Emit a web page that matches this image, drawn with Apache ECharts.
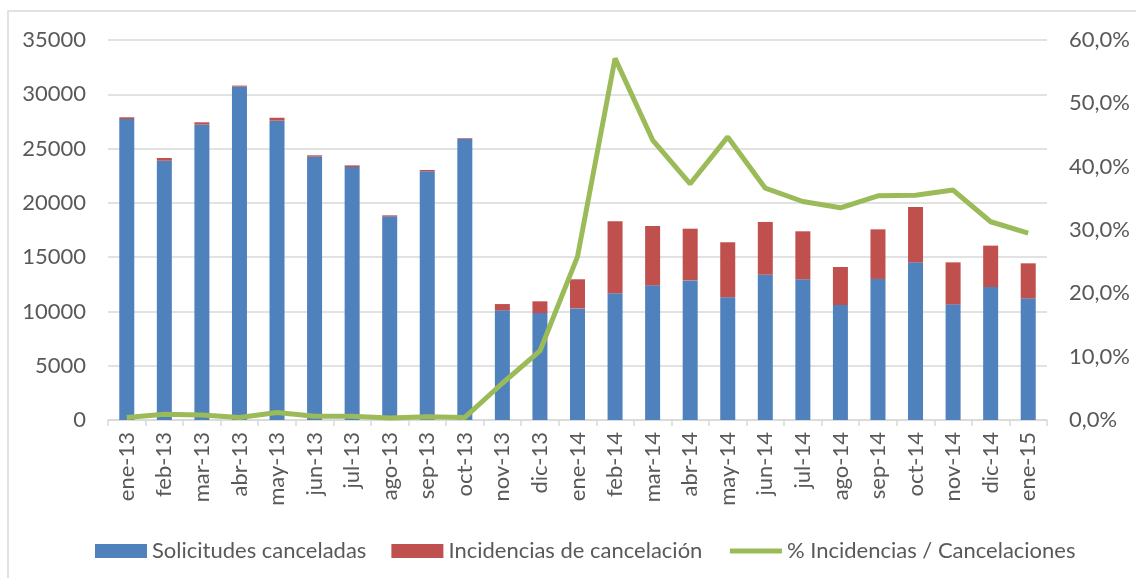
<!DOCTYPE html>
<html>
<head>
<meta charset="utf-8">
<script src="https://cdn.jsdelivr.net/npm/echarts@6/dist/echarts.min.js"></script>
<style>
html,body{margin:0;padding:0;background:#fff;}
#chart{width:1136px;height:578px;}
</style>
</head>
<body>
<div id="chart"></div>
<script>
var months = ['ene-13','feb-13','mar-13','abr-13','may-13','jun-13','jul-13','ago-13','sep-13','oct-13','nov-13','dic-13',
	'ene-14','feb-14','mar-14','abr-14','may-14','jun-14','jul-14','ago-14','sep-14','oct-14','nov-14','dic-14','ene-15'];
var solicitudes = [27720, 23880, 27200, 30700, 27570, 24250, 23300, 18760, 22900, 25880, 10100, 9850,
	10280, 11670, 12400, 12860, 11300, 13380, 12960, 10590, 12990, 14520, 10650, 12250, 11210];
var incidencias = [160, 250, 220, 100, 270, 130, 150, 90, 130, 70, 580, 1080,
	2680, 6630, 5470, 4760, 5070, 4860, 4420, 3500, 4570, 5100, 3870, 3810, 3220];
var porcentaje = [0.4, 0.9, 0.8, 0.4, 1.2, 0.6, 0.6, 0.3, 0.5, 0.4, 5.8, 10.9,
	25.8, 57.1, 44.2, 37.3, 44.7, 36.6, 34.5, 33.5, 35.4, 35.5, 36.3, 31.3, 29.5];

var txt = '#595959';
var gridColor = '#d9d9d9';
var font = 'Lato';

var chart = echarts.init(document.getElementById('chart'));
var option = {
	animation: false,
	textStyle: {fontFamily: font},
	graphic: [{
		type: 'rect',
		shape: {x: 8, y: 11, width: 1300, height: 700},
		style: {fill: 'none', stroke: gridColor, lineWidth: 1.5},
		silent: true
	}],
	grid: {left: 108, right: 89, top: 40, bottom: 158},
	legend: {
		left: 90,
		top: 535,
		itemWidth: 52,
		itemHeight: 14,
		itemGap: 25,
		textStyle: {color: txt, fontSize: 22, fontFamily: font},
		data: [
			{name: 'Solicitudes canceladas', icon: 'rect'},
			{name: 'Incidencias de cancelación', icon: 'rect'},
			{name: '% Incidencias / Cancelaciones', itemStyle: {opacity: 0}, lineStyle: {width: 5}}
		]
	},
	xAxis: {
		type: 'category',
		data: months,
		boundaryGap: true,
		axisLine: {lineStyle: {color: gridColor, width: 1.5}},
		axisTick: {show: true, length: 6, lineStyle: {color: gridColor, width: 1.5}},
		axisLabel: {rotate: 90, color: txt, fontSize: 22, margin: 12, interval: 0}
	},
	yAxis: [{
		type: 'value',
		min: 0,
		max: 35000,
		interval: 5000,
		axisLine: {show: false},
		axisTick: {show: false},
		splitLine: {lineStyle: {color: gridColor, width: 1.5}},
		axisLabel: {
			color: txt, fontSize: 22, margin: 22,
			formatter: function (v) { return String(v); }
		}
	}, {
		type: 'value',
		min: 0,
		max: 60,
		interval: 10,
		axisLine: {show: false},
		axisTick: {show: false},
		splitLine: {show: false},
		axisLabel: {
			color: txt, fontSize: 22, margin: 22,
			formatter: function (v) { return v.toFixed(1).replace('.', ',') + '%'; }
		}
	}],
	series: [{
		name: 'Solicitudes canceladas',
		type: 'bar',
		stack: 'total',
		data: solicitudes,
		barWidth: 15,
		itemStyle: {color: '#4f81bd'}
	}, {
		name: 'Incidencias de cancelación',
		type: 'bar',
		stack: 'total',
		data: incidencias,
		barWidth: 15,
		itemStyle: {color: '#c0504d'}
	}, {
		name: '% Incidencias / Cancelaciones',
		type: 'line',
		yAxisIndex: 1,
		data: porcentaje,
		symbol: 'none',
		lineStyle: {color: '#9bbb59', width: 5},
		itemStyle: {color: '#9bbb59'}
	}]
};
chart.setOption(option);
</script>
</body>
</html>
